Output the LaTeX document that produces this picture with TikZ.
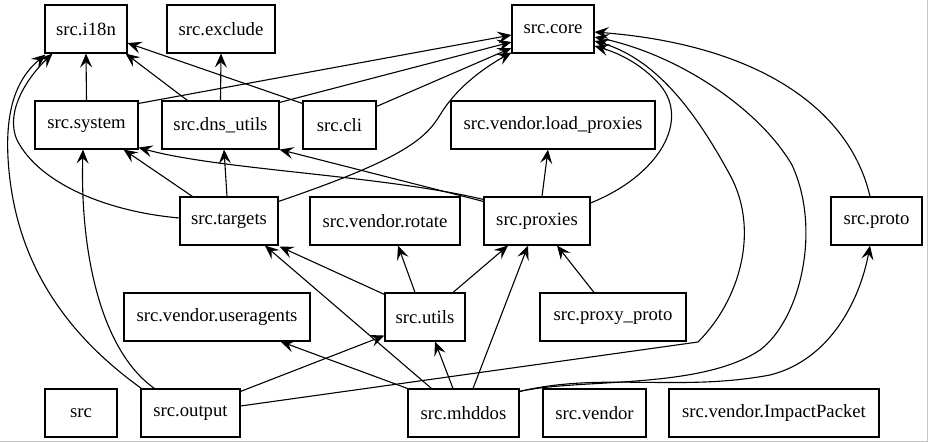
\documentclass[tikz,border=0pt]{standalone}
\usepackage{fontspec}
\setmainfont{Liberation Serif}
\usetikzlibrary{arrows.meta}
\begin{document}
\begin{tikzpicture}[x=1pt,y=-1pt,
  box/.style={draw, line width=1.1pt, minimum height=48pt, inner sep=0pt, font=\rmfamily\fontsize{18.7}{22}\selectfont},
  dep/.style={line width=1.1pt, -{Stealth[length=14pt,width=12pt,inset=5.5pt]}}]
\useasboundingbox (0,0) rectangle (928,443);
\draw[gray!45, line width=1pt] (0,441.5) -- (927.5,441.5) -- (927.5,0);
% row 1
\node[box, minimum width=82pt]  (i18n)    at (86,29)    {src.i18n};
\node[box, minimum width=108pt] (exclude) at (221,29)   {src.exclude};
\node[box, minimum width=82pt]  (core)    at (553,29)   {src.core};
% row 2
\node[box, minimum width=103pt] (system)  at (86.5,125) {src.system};
\node[box, minimum width=117pt] (dns)     at (220.5,125){src.dns\_utils};
\node[box, minimum width=73pt]  (cli)     at (339.5,125){src.cli};
\node[box, minimum width=204pt] (load)    at (553,125)  {src.vendor.load\_proxies};
% row 3
\node[box, minimum width=98pt]  (targets) at (229,221)  {src.targets};
\node[box, minimum width=150pt] (rotate)  at (385,221)  {src.vendor.rotate};
\node[box, minimum width=106pt] (proxies) at (537,221)  {src.proxies};
\node[box, minimum width=91pt]  (proto)   at (876.5,221){src.proto};
% row 4
\node[box, minimum width=186pt] (ua)      at (217,317)  {src.vendor.useragents};
\node[box, minimum width=80pt]  (utils)   at (425,317)  {src.utils};
\node[box, minimum width=146pt] (pproto)  at (613,317)  {src.proxy\_proto};
% row 5
\node[box, minimum width=72pt]  (src)     at (81,413)   {src};
\node[box, minimum width=99pt]  (output)  at (190.5,413){src.output};
\node[box, minimum width=111pt] (mhddos)  at (463.5,413){src.mhddos};
\node[box, minimum width=103pt] (vendor)  at (594.5,413){src.vendor};
\node[box, minimum width=210pt] (impact)  at (774,413)  {src.vendor.ImpactPacket};

% system
\draw[dep] (system.north) -- (i18n.south);
\draw[dep] ([shift={(0,3)}]system.north east) -- ([shift={(0,6)}]core.west);
% dns_utils
\draw[dep] ([shift={(26,0)}]dns.north west) -- ([shift={(-2,0)}]i18n.south east);
\draw[dep] (dns.north) -- (exclude.south);
\draw[dep] ([shift={(0,2)}]dns.north east) -- ([shift={(0,13)}]core.west);
% cli
\draw[dep] ([shift={(0,3)}]cli.north west) -- ([shift={(0,14)}]i18n.east);
\draw[dep] ([shift={(0,6)}]cli.north east) -- ([shift={(0,19)}]core.west);
% targets
\draw[dep] ([shift={(0,-3)}]targets.west) .. controls (110,212) and (40,185) .. (17,140)
   .. controls (4,110) and (30,75) .. ([shift={(8,0)}]i18n.south west);
\draw[dep] ([shift={(13,0)}]targets.north west) -- ([shift={(-15,0)}]system.south east);
\draw[dep] ([shift={(-2,0)}]targets.north) -- ([shift={(3.5,0)}]dns.south);
\draw[dep] ([shift={(0,5)}]targets.north east) .. controls (400,160) and (425,140) .. (440,115)
   .. controls (455,90) and (480,70) .. ([shift={(0,-1)}]core.south west);
% proxies
\draw[dep] ([shift={(0,3)}]proxies.north west) .. controls (380,175) and (220,170) .. ([shift={(0,-2)}]system.south east);
\draw[dep] ([shift={(0,5)}]proxies.north west) -- (dns.south east);
\draw[dep] ([shift={(5,0)}]proxies.north) -- ([shift={(-5,0)}]load.south);
\draw[dep] ([shift={(0,-18)}]proxies.east) .. controls (660,175) and (690,120) .. (660,85)
   .. controls (640,62) and (615,52) .. ([shift={(0,17)}]core.east);
% utils
\draw[dep] ([shift={(0,2)}]utils.north west) -- ([shift={(1,1)}]targets.south east);
\draw[dep] ([shift={(-10,0)}]utils.north) -- ([shift={(13,0)}]rotate.south);
\draw[dep] ([shift={(28,0)}]utils.north) -- ([shift={(-29,0)}]proxies.south);
% proxy_proto
\draw[dep] ([shift={(-19,0)}]pproto.north) -- ([shift={(20,0)}]proxies.south);
% output
\draw[dep] ([shift={(1,0)}]output.north west) .. controls (60,330) and (20,260) .. (10,180)
   .. controls (2,115) and (15,80) .. ([shift={(1,1)}]i18n.south west);
\draw[dep] ([shift={(14,0)}]output.north west) .. controls (100,350) and (80,250) .. ([shift={(-3.5,0)}]system.south);
\draw[dep] ([shift={(0,3)}]output.north east) -- ([shift={(0,-6)}]utils.south west);
\draw[dep] ([shift={(0,-7)}]output.east) -- (698,342) .. controls (740,300) and (760,230) .. (730,175)
   .. controls (700,120) and (660,60) .. ([shift={(0,12)}]core.east);
% mhddos
\draw[dep] (mhddos.north west) -- ([shift={(-30,0)}]ua.south east);
\draw[dep] ([shift={(24,0)}]mhddos.north west) -- ([shift={(36,0)}]targets.south);
\draw[dep] ([shift={(-10.5,0)}]mhddos.north) -- ([shift={(10,0)}]utils.south);
\draw[dep] ([shift={(9.5,0)}]mhddos.north) -- ([shift={(-9,0)}]proxies.south);
\draw[dep] ([shift={(0,3)}]mhddos.north east) .. controls (580,378) and (700,390) .. (760,350)
   .. controls (800,320) and (822,230) .. (792,165)
   .. controls (760,110) and (680,55) .. ([shift={(0,8)}]core.east);
\draw[dep] ([shift={(0,3)}]mhddos.north east) .. controls (600,372) and (680,392) .. (770,375)
   .. controls (830,360) and (860,300) .. ([shift={(-6.5,0)}]proto.south);
% proto
\draw[dep] ([shift={(-6.5,0)}]proto.north) .. controls (850,110) and (760,45) .. ([shift={(0,3)}]core.east);
\end{tikzpicture}
\end{document}
